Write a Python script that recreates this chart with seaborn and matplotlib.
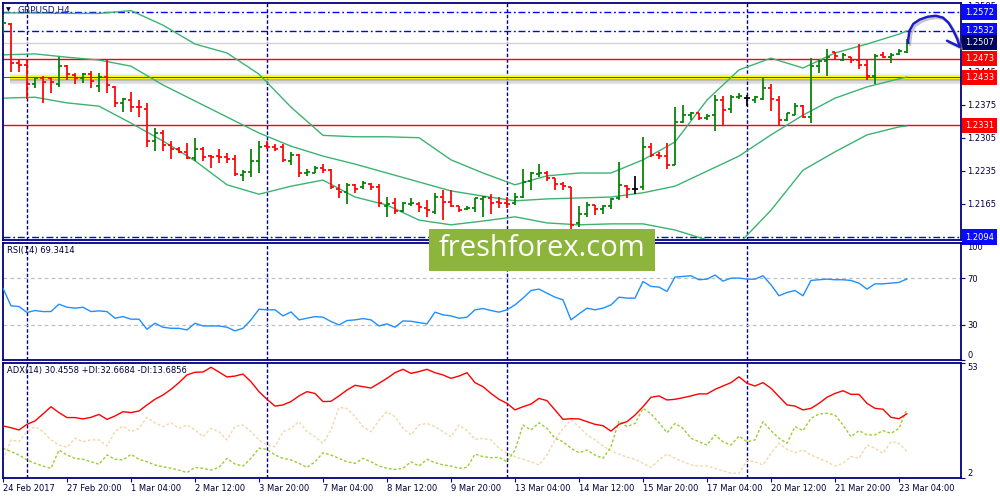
import numpy as np
import matplotlib
matplotlib.use("Agg")
import matplotlib.pyplot as plt
import matplotlib.transforms as mtransforms
from matplotlib.patches import Rectangle
import seaborn as sns

# ---------------- data (GBPUSD H4) ----------------
bar_open = [1.2534, 1.2547, 1.2464, 1.2459, 1.2420, 1.2431, 1.2431, 1.2420, 1.2457, 1.2438,
            1.2431, 1.2440, 1.2415, 1.2433, 1.2412, 1.2378, 1.2385, 1.2371, 1.2367, 1.2297,
            1.2314, 1.2290, 1.2280, 1.2275, 1.2261, 1.2282, 1.2266, 1.2266, 1.2265, 1.2259,
            1.2226, 1.2233, 1.2256, 1.2287, 1.2286, 1.2286, 1.2256, 1.2268, 1.2229, 1.2231,
            1.2240, 1.2236, 1.2197, 1.2190, 1.2205, 1.2201, 1.2207, 1.2201, 1.2160, 1.2167,
            1.2150, 1.2164, 1.2164, 1.2155, 1.2148, 1.2180, 1.2169, 1.2159, 1.2154, 1.2155,
            1.2174, 1.2178, 1.2169, 1.2166, 1.2166, 1.2180, 1.2212, 1.2228, 1.2231, 1.2219,
            1.2207, 1.2200, 1.2123, 1.2144, 1.2162, 1.2153, 1.2160, 1.2176, 1.2202, 1.2197,
            1.2201, 1.2286, 1.2268, 1.2266, 1.2247, 1.2339, 1.2353, 1.2357, 1.2346, 1.2353,
            1.2385, 1.2365, 1.2391, 1.2389, 1.2385, 1.2387, 1.2410, 1.2385, 1.2343, 1.2353,
            1.2372, 1.2348, 1.2457, 1.2467, 1.2486, 1.2471, 1.2476, 1.2470, 1.2459, 1.2436,
            1.2481, 1.2477, 1.2483, 1.2486]
bar_high = [1.2566, 1.2548, 1.2471, 1.2471, 1.2433, 1.2436, 1.2435, 1.2476, 1.2459, 1.2442,
            1.2443, 1.2447, 1.2443, 1.2471, 1.2415, 1.2389, 1.2403, 1.2385, 1.2378, 1.2325,
            1.2321, 1.2297, 1.2286, 1.2293, 1.2304, 1.2286, 1.2268, 1.2280, 1.2273, 1.2268,
            1.2236, 1.2280, 1.2298, 1.2297, 1.2292, 1.2292, 1.2275, 1.2270, 1.2238, 1.2244,
            1.2249, 1.2238, 1.2207, 1.2208, 1.2207, 1.2212, 1.2208, 1.2207, 1.2180, 1.2178,
            1.2169, 1.2176, 1.2169, 1.2173, 1.2188, 1.2194, 1.2195, 1.2160, 1.2159, 1.2178,
            1.2181, 1.2185, 1.2180, 1.2180, 1.2187, 1.2238, 1.2233, 1.2249, 1.2234, 1.2219,
            1.2210, 1.2201, 1.2160, 1.2169, 1.2162, 1.2162, 1.2176, 1.2254, 1.2205, 1.2224,
            1.2307, 1.2294, 1.2275, 1.2293, 1.2371, 1.2374, 1.2360, 1.2358, 1.2355, 1.2396,
            1.2394, 1.2396, 1.2401, 1.2396, 1.2394, 1.2433, 1.2419, 1.2394, 1.2358, 1.2378,
            1.2374, 1.2474, 1.2470, 1.2493, 1.2488, 1.2484, 1.2477, 1.2504, 1.2470, 1.2483,
            1.2488, 1.2484, 1.2493, 1.2514]
bar_low = [1.2525, 1.2445, 1.2445, 1.2387, 1.2410, 1.2379, 1.2401, 1.2412, 1.2428, 1.2419,
           1.2422, 1.2410, 1.2403, 1.2401, 1.2371, 1.2360, 1.2360, 1.2350, 1.2286, 1.2277,
           1.2277, 1.2259, 1.2272, 1.2259, 1.2256, 1.2256, 1.2240, 1.2252, 1.2252, 1.2224,
           1.2212, 1.2221, 1.2231, 1.2282, 1.2277, 1.2254, 1.2246, 1.2221, 1.2224, 1.2229,
           1.2231, 1.2197, 1.2178, 1.2164, 1.2187, 1.2197, 1.2195, 1.2157, 1.2136, 1.2144,
           1.2148, 1.2159, 1.2148, 1.2137, 1.2144, 1.2130, 1.2157, 1.2148, 1.2151, 1.2148,
           1.2137, 1.2144, 1.2155, 1.2155, 1.2162, 1.2178, 1.2193, 1.2221, 1.2212, 1.2195,
           1.2195, 1.2110, 1.2116, 1.2136, 1.2141, 1.2144, 1.2153, 1.2173, 1.2176, 1.2185,
           1.2194, 1.2265, 1.2259, 1.2238, 1.2247, 1.2337, 1.2343, 1.2343, 1.2343, 1.2320,
           1.2332, 1.2357, 1.2387, 1.2372, 1.2378, 1.2385, 1.2362, 1.2332, 1.2341, 1.2353,
           1.2346, 1.2337, 1.2443, 1.2436, 1.2470, 1.2469, 1.2463, 1.2452, 1.2428, 1.2420,
           1.2474, 1.2464, 1.2481, 1.2484]
bar_close = [1.2548, 1.2464, 1.2459, 1.2420, 1.2431, 1.2424, 1.2424, 1.2457, 1.2440, 1.2431,
             1.2440, 1.2426, 1.2433, 1.2417, 1.2378, 1.2387, 1.2370, 1.2370, 1.2297, 1.2314,
             1.2290, 1.2280, 1.2275, 1.2261, 1.2282, 1.2265, 1.2265, 1.2265, 1.2259, 1.2228,
             1.2233, 1.2256, 1.2286, 1.2286, 1.2282, 1.2258, 1.2268, 1.2229, 1.2233, 1.2240,
             1.2236, 1.2200, 1.2190, 1.2205, 1.2197, 1.2208, 1.2200, 1.2167, 1.2164, 1.2150,
             1.2166, 1.2166, 1.2157, 1.2151, 1.2180, 1.2169, 1.2159, 1.2151, 1.2156, 1.2176,
             1.2180, 1.2166, 1.2166, 1.2164, 1.2180, 1.2210, 1.2229, 1.2231, 1.2219, 1.2207,
             1.2202, 1.2120, 1.2144, 1.2162, 1.2153, 1.2160, 1.2174, 1.2205, 1.2197, 1.2197,
             1.2286, 1.2268, 1.2266, 1.2247, 1.2339, 1.2353, 1.2357, 1.2346, 1.2352, 1.2385,
             1.2364, 1.2392, 1.2394, 1.2389, 1.2392, 1.2410, 1.2387, 1.2343, 1.2357, 1.2372,
             1.2348, 1.2457, 1.2467, 1.2477, 1.2479, 1.2481, 1.2470, 1.2459, 1.2436, 1.2479,
             1.2477, 1.2481, 1.2490, 1.2507]

band_idx = [0, 4, 8, 12, 16, 20, 24, 28, 32, 36, 40, 44, 48, 52, 56, 60, 64, 68, 72, 76,
            80, 84, 88, 92, 96, 100, 104, 108, 112, 113]
band_upper = [1.2570, 1.2570, 1.2569, 1.2569, 1.2575, 1.2544, 1.2504, 1.2485, 1.2440, 1.2370,
              1.2310, 1.2307, 1.2307, 1.2305, 1.2258, 1.2230, 1.2205, 1.2224, 1.2230, 1.2230,
              1.2258, 1.2296, 1.2385, 1.2449, 1.2474, 1.2453, 1.2485, 1.2504, 1.2525, 1.2532]
band_middle = [1.2481, 1.2483, 1.2476, 1.2470, 1.2457, 1.2417, 1.2383, 1.2349, 1.2315, 1.2287,
               1.2266, 1.2249, 1.2230, 1.2211, 1.2192, 1.2181, 1.2171, 1.2175, 1.2177, 1.2179,
               1.2188, 1.2202, 1.2234, 1.2266, 1.2311, 1.2353, 1.2389, 1.2413, 1.2430, 1.2434]
band_lower = [1.2389, 1.2391, 1.2379, 1.2372, 1.2336, 1.2298, 1.2256, 1.2205, 1.2185, 1.2202,
              1.2215, 1.2179, 1.2162, 1.2130, 1.2120, 1.2128, 1.2137, 1.2124, 1.2120, 1.2122,
              1.2122, 1.2109, 1.2088, 1.2080, 1.2151, 1.2236, 1.2275, 1.2311, 1.2328, 1.2330]

rsi = [61.4, 46.3, 45.7, 40.6, 42.3, 41.4, 41.4, 47.7, 45.1, 44.3,
       45.1, 41.4, 42.0, 41.4, 35.7, 37.1, 34.9, 34.9, 26.3, 31.4,
       28.0, 27.1, 27.1, 25.7, 31.4, 29.1, 29.1, 29.1, 28.0, 24.9,
       27.1, 34.3, 43.4, 42.9, 42.9, 37.7, 41.1, 34.3, 35.7, 37.1,
       36.6, 32.9, 30.0, 33.7, 34.3, 35.4, 34.3, 29.1, 30.9, 28.0,
       33.4, 33.1, 32.0, 30.9, 40.9, 38.6, 37.7, 35.7, 36.6, 42.9,
       44.0, 42.3, 40.9, 42.9, 47.1, 52.9, 59.4, 60.6, 57.1, 53.7,
       51.4, 34.3, 39.4, 44.3, 42.9, 44.3, 47.1, 53.7, 52.9, 52.9,
       67.1, 62.9, 62.3, 58.6, 70.9, 71.4, 72.0, 68.6, 69.1, 72.6,
       67.4, 70.0, 70.0, 69.1, 69.1, 72.0, 64.3, 54.9, 57.7, 59.4,
       54.9, 68.0, 68.6, 69.1, 68.6, 68.6, 68.0, 65.7, 60.6, 65.1,
       65.1, 65.7, 66.3, 69.3]

adx = [25.1, 24.3, 23.3, 25.8, 27.3, 30.4, 33.6, 31.0, 28.8, 28.8,
       28.2, 28.9, 30.2, 28.0, 29.5, 31.4, 31.0, 31.7, 34.4, 36.9,
       38.8, 41.3, 44.3, 47.7, 48.9, 49.0, 51.1, 49.0, 46.8, 47.2,
       48.1, 44.7, 40.3, 36.9, 33.9, 34.4, 35.9, 38.4, 40.3, 39.5,
       35.9, 36.0, 38.4, 41.0, 43.1, 42.5, 41.9, 44.0, 46.2, 48.7,
       50.2, 48.4, 49.2, 50.2, 48.7, 47.7, 46.2, 47.2, 48.7, 44.3,
       42.5, 39.5, 36.9, 35.1, 32.2, 33.6, 34.8, 37.3, 36.3, 32.2,
       28.0, 28.3, 28.2, 27.0, 25.8, 25.2, 22.8, 25.8, 27.0, 29.9,
       33.6, 37.8, 38.4, 36.6, 36.9, 37.6, 38.4, 39.3, 39.3, 41.3,
       42.8, 44.3, 46.9, 44.0, 42.8, 44.3, 41.8, 38.1, 34.4, 33.9,
       32.2, 32.9, 35.1, 37.8, 39.5, 40.7, 39.1, 39.1, 35.1, 32.9,
       32.5, 28.9, 28.3, 30.5]
plus_di = [15.2, 13.7, 12.2, 10.0, 8.5, 7.3, 6.3, 14.4, 12.2, 10.7,
           10.3, 9.2, 8.1, 12.2, 10.3, 10.0, 12.5, 10.3, 9.2, 7.8,
           7.0, 6.3, 5.5, 4.4, 6.7, 6.3, 5.5, 6.7, 10.7, 8.2,
           7.3, 10.7, 15.2, 14.7, 12.2, 10.7, 10.0, 8.5, 6.7, 9.2,
           13.2, 12.2, 10.7, 9.2, 8.5, 10.7, 9.2, 7.3, 6.3, 5.8,
           6.3, 9.2, 7.3, 10.3, 8.8, 7.8, 7.3, 6.3, 6.7, 12.6,
           11.5, 11.0, 11.2, 9.2, 14.4, 25.5, 23.3, 26.5, 24.0, 19.6,
           18.1, 15.2, 13.2, 14.4, 12.2, 10.7, 15.9, 27.3, 24.8, 26.2,
           32.9, 30.4, 26.5, 22.1, 26.2, 24.0, 19.6, 18.1, 16.6, 21.1,
           18.1, 16.6, 20.6, 18.1, 18.9, 27.0, 23.0, 19.6, 17.4, 24.8,
           23.0, 28.5, 30.4, 30.7, 29.9, 25.5, 20.3, 23.0, 21.1, 21.1,
           23.0, 21.8, 24.0, 32.7]
minus_di = [10.0, 18.9, 18.1, 22.5, 24.8, 22.5, 18.9, 16.6, 15.6, 19.6,
            18.1, 18.9, 18.9, 16.2, 22.5, 25.1, 22.5, 24.0, 28.9, 26.5,
            24.8, 26.5, 24.0, 25.5, 23.3, 20.3, 24.0, 22.5, 18.9, 24.8,
            25.5, 22.5, 18.9, 16.6, 15.9, 22.5, 24.0, 27.0, 22.5, 20.3,
            17.4, 23.3, 33.3, 32.9, 29.2, 24.8, 22.5, 27.7, 31.4, 29.2,
            24.0, 21.1, 25.5, 26.2, 24.8, 22.5, 20.3, 25.5, 23.0, 19.1,
            19.6, 18.9, 15.2, 12.9, 11.5, 10.3, 9.2, 7.8, 12.2, 18.9,
            24.0, 27.7, 24.8, 21.1, 18.9, 16.2, 14.1, 12.6, 11.2, 10.3,
            8.5, 6.7, 10.0, 12.6, 10.7, 9.2, 7.8, 7.3, 7.3, 6.3,
            5.2, 4.1, 4.1, 9.7, 9.2, 7.8, 12.9, 17.4, 14.7, 13.2,
            14.4, 12.2, 10.7, 9.2, 7.3, 8.5, 11.5, 10.7, 16.6, 15.2,
            12.9, 18.1, 17.4, 13.7]

x_tick_bars = [0, 8, 16, 24, 32, 40, 48, 56, 64, 72, 80, 88, 96, 104, 112]
x_tick_labels = ["24 Feb 2017", "27 Feb 20:00", "1 Mar 04:00", "2 Mar 12:00", "3 Mar 20:00",
                 "7 Mar 04:00", "8 Mar 12:00", "9 Mar 20:00", "13 Mar 04:00", "14 Mar 12:00",
                 "15 Mar 20:00", "17 Mar 04:00", "20 Mar 12:00", "21 Mar 20:00", "23 Mar 04:00"]
week_start_bars = [3, 33, 63, 93]

price_ticks = [1.2165, 1.2235, 1.2305, 1.2375, 1.2445, 1.2585]
blue_levels = [1.2572, 1.2532, 1.2094]
red_levels = [1.2473, 1.2331]
yellow_level = 1.2433
current_price = 1.2507

arrow_path_x = [113.1, 113.3, 113.8, 114.6, 115.6, 116.6, 117.5, 118.2, 118.8, 119.3, 119.6]
arrow_path_y = [1.2506, 1.2532, 1.2547, 1.2556, 1.2562, 1.2564, 1.2560, 1.2549, 1.2532, 1.2514, 1.2498]
arrow_barb_x = [118.0, 119.6]
arrow_barb_y = [1.2511, 1.2498]

# ---------------- style ----------------
sns.set_theme(style="white")
plt.rcParams["font.family"] = ["DejaVu Sans"]

NAVY = "#000080"
TXT = "#000040"
W, H = 1000, 500

fig = plt.figure(figsize=(10, 5), dpi=100)
fig.patch.set_facecolor("white")


def rect(l, t, r, b):
    return [l / W, 1 - b / H, (r - l) / W, (b - t) / H]


ax = fig.add_axes(rect(2.5, 2.5, 961, 239.5))
ax_rsi = fig.add_axes(rect(2.5, 243, 961, 360))
ax_adx = fig.add_axes(rect(2.5, 363, 961, 478))
XL = (-0.06, 119.75)

for a in (ax, ax_rsi, ax_adx):
    a.set_facecolor("white")
    a.set_xlim(*XL)
    for s in a.spines.values():
        s.set_color(NAVY)
        s.set_linewidth(1.3)
    for wb in week_start_bars:
        a.axvline(wb, color=NAVY, lw=1.0, ls=(0, (2.5, 1.5)), zorder=1)
    a.tick_params(axis="y", which="both", left=False, right=True, labelleft=False,
                  labelright=True, direction="out", length=3, width=0.8, color=NAVY,
                  labelcolor=TXT, labelsize=6, pad=1.5)
    a.tick_params(axis="x", bottom=False, labelbottom=False)

# ---------------- main panel ----------------
idx = np.arange(len(bar_close))
o = np.array(bar_open)
hi = np.array(bar_high)
lo = np.array(bar_low)
c = np.array(bar_close)
col = np.where(c > o, "#008000", np.where(c < o, "#ff0000", "#000000"))

ax.set_ylim(1.20888, 1.25922)

# levels
ax.axhline(current_price, color="#d3d3d3", lw=1.0, zorder=1.5)
for lv in blue_levels:
    ax.axhline(lv, color="#0000ff", lw=1.0, ls=(0, (5, 2, 1.3, 2)), zorder=1.6)
for lv in red_levels:
    ax.axhline(lv, color="#ff0000", lw=1.0, zorder=1.6)
for k in range(1, 10):
    ax.plot([0.9, XL[1]], [yellow_level - k * 0.00016] * 2, color="#505050",
            alpha=0.26 * (1 - (k - 1) / 9), lw=1.2, solid_capstyle="butt", zorder=1.7)
for k in range(1, 4):
    ax.plot([0.9, XL[1]], [yellow_level + 0.0002 + k * 0.00016] * 2, color="#808080",
            alpha=0.07, lw=1.2, solid_capstyle="butt", zorder=1.7)
ax.plot([0.9, XL[1]], [yellow_level] * 2, color="#ffff00", lw=2.6,
        solid_capstyle="butt", zorder=1.8)
ax.axhline(yellow_level + 0.00012, color="#ff0000", lw=0.7, zorder=1.9)

# Bollinger bands
for band in (band_upper, band_middle, band_lower):
    sns.lineplot(x=band_idx, y=band, ax=ax, color="#3cb371", lw=1.0, legend=False, zorder=2)

# OHLC bars
ax.vlines(idx, lo, hi, colors=col, lw=1.25, zorder=4)
ax.hlines(o, idx - 0.42, idx, colors=col, lw=1.25, zorder=4)
ax.hlines(c, idx, idx + 0.42, colors=col, lw=1.25, zorder=4)

ax.set_yticks(price_ticks)
ax.set_yticklabels([f"{v:.4f}" for v in price_ticks])
ax.set_xlabel("")
ax.set_ylabel("")

# right-side price boxes
trans = mtransforms.blended_transform_factory(ax.transAxes, ax.transData)
boxes = [(1.2572, "#0a0aff"), (1.2532, "#0a0aff"), (current_price, "#000060"),
         (1.2473, "#ff0000"), (yellow_level, "#ff0000"), (1.2331, "#ff0000"),
         (1.2094, "#0a0aff")]
for v, fc in boxes:
    ax.text(1.0042, v, f"{v:.4f}", transform=trans, ha="left", va="center", fontsize=6,
            color="white", zorder=6, clip_on=False,
            bbox=dict(boxstyle="square,pad=0.38", fc=fc, ec="none"))

# hand-drawn arrow
shadow = mtransforms.offset_copy(ax.transData, fig=fig, x=2, y=-2, units="dots")
for tr, colr, alpha in ((shadow, "#808080", 0.45), (ax.transData, "#1c1cc8", 1.0)):
    ax.plot(arrow_path_x, arrow_path_y, color=colr, alpha=alpha, lw=1.8, transform=tr,
            clip_on=False, zorder=7, solid_capstyle="round")
    ax.plot(arrow_barb_x, arrow_barb_y, color=colr, alpha=alpha, lw=1.8, transform=tr,
            clip_on=False, zorder=7, solid_capstyle="round")

# ---------------- RSI panel ----------------
ax_rsi.set_ylim(0, 100)
for lv in (70, 30):
    ax_rsi.axhline(lv, color="#c0c0c0", lw=0.9, ls=(0, (3, 2.5)), zorder=1.5)
sns.lineplot(x=idx, y=rsi, ax=ax_rsi, color="#1e90ff", lw=1.0, legend=False, zorder=3)
ax_rsi.set_yticks([0, 30, 70, 100])
ax_rsi.set_yticklabels(["0", "30", "70", "100"])
rl = ax_rsi.get_yticklabels()
rl[0].set_va("bottom")
rl[3].set_va("top")
ax_rsi.set_xlabel("")
ax_rsi.set_ylabel("")

# ---------------- ADX panel ----------------
ax_adx.set_ylim(2, 53)
sns.lineplot(x=idx, y=minus_di, ax=ax_adx, color="#f5d6a8", lw=1.0, ls=(0, (2, 1.5)),
             legend=False, zorder=2)
sns.lineplot(x=idx, y=plus_di, ax=ax_adx, color="#9acd32", lw=1.0, ls=(0, (2, 1.5)),
             legend=False, zorder=2.5)
sns.lineplot(x=idx, y=adx, ax=ax_adx, color="#ff0000", lw=1.0, legend=False, zorder=3)
ax_adx.set_yticks([2, 53])
ax_adx.set_yticklabels(["2", "53"])
al = ax_adx.get_yticklabels()
al[0].set_va("bottom")
al[1].set_va("top")
ax_adx.set_xticks(x_tick_bars)
ax_adx.set_xticklabels(x_tick_labels, ha="left")
ax_adx.tick_params(axis="x", bottom=True, labelbottom=True, direction="out", length=3,
                   width=0.8, color=NAVY, labelcolor=TXT, labelsize=6, pad=1.5)
ax_adx.set_xlabel("")
ax_adx.set_ylabel("")

# ---------------- captions ----------------
fig.text(6 / W, 1 - 10 / H, "\u25BC", fontsize=4.5, color=TXT, va="center", ha="left")
fig.text(18 / W, 1 - 10 / H, "GBPUSD,H4", fontsize=6.5, color="#1a1a80", va="center", ha="left")
fig.text(7 / W, 1 - 251 / H, "RSI(14) 69.3414", fontsize=6, color=TXT, va="center", ha="left")
fig.text(7 / W, 1 - 371 / H, "ADX(14) 30.4558 +DI:32.6684 -DI:13.6856", fontsize=6,
         color=TXT, va="center", ha="left")

# watermark
fig.add_artist(Rectangle((429 / W, 1 - 271 / H), 226 / W, 42 / H, transform=fig.transFigure,
                         fc="#8db53c", ec="none", zorder=20))
fig.text(542 / W, 1 - 249 / H, "freshforex.com", fontsize=21, color="white",
         family=["Open Sans", "DejaVu Sans"], ha="center", va="center", zorder=21)

fig.savefig("out.png", dpi=100)
